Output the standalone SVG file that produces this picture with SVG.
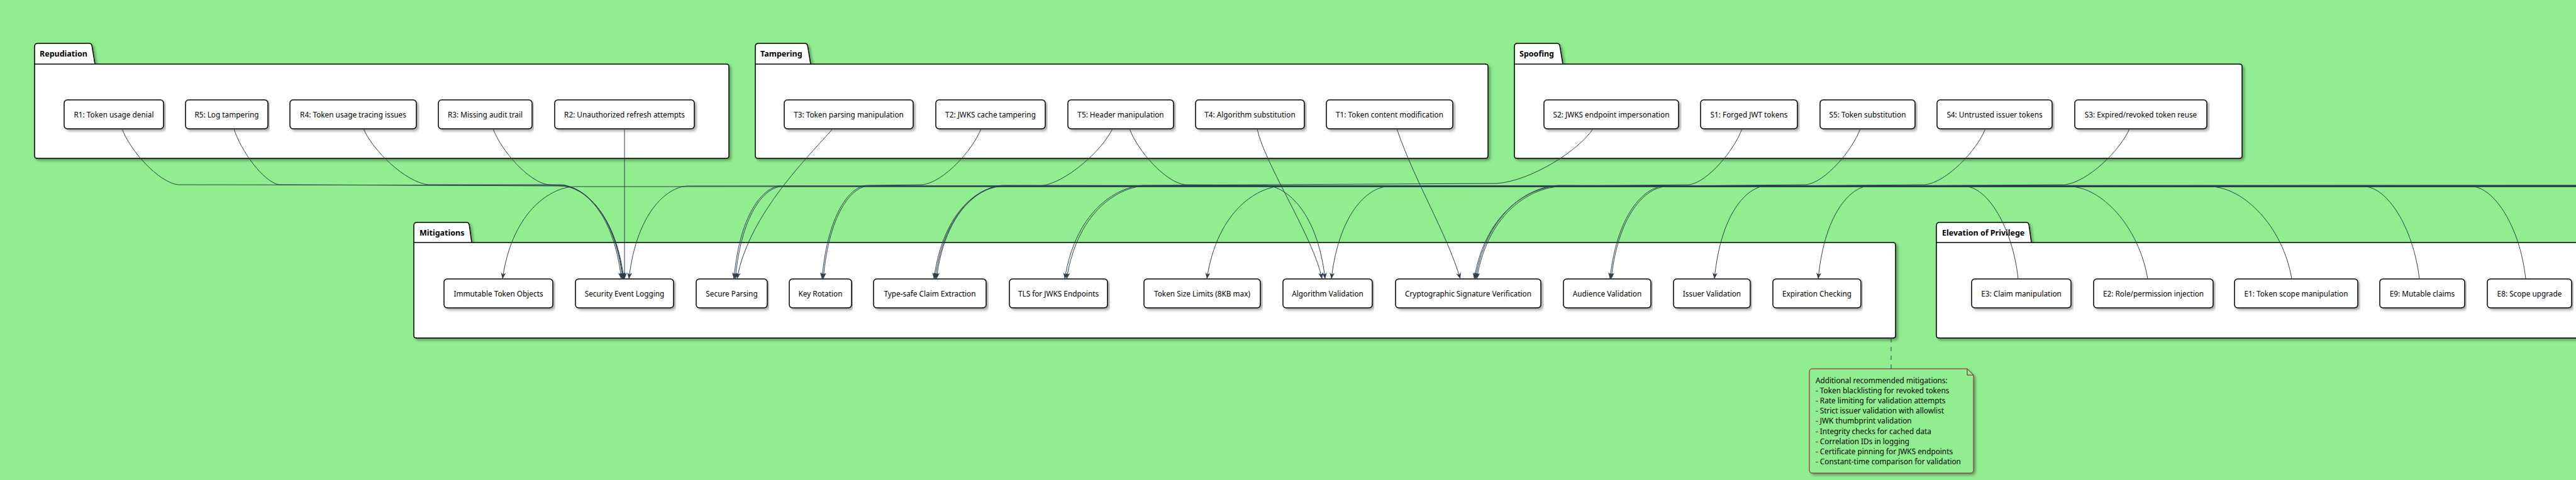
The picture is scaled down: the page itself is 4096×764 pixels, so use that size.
<svg xmlns="http://www.w3.org/2000/svg" width="4096" height="764" viewBox="0 0 4096 764">
<defs>
<style>
.pkg{fill:#fff;stroke:#000;stroke-width:1.5;filter:url(#sh)}
.tabline{stroke:#000;stroke-width:1.5;fill:none}
.ptitle{font-family:"Noto Sans",sans-serif;font-size:12.5px;font-weight:bold;fill:#000}
.box{fill:#fff;stroke:#000;stroke-width:1.5;filter:url(#sh)}
.lbl{font-family:"Noto Sans",sans-serif;font-size:11.8px;fill:#000;text-anchor:middle}
.edge{fill:none;stroke:#2C3E50;stroke-width:1;marker-end:url(#arr)}
.ntext{font-family:"Noto Sans",sans-serif;font-size:11.8px;fill:#000}
</style>
<filter id="sh" x="-2%" y="-10%" width="104%" height="130%">
<feDropShadow dx="3" dy="3" stdDeviation="2" flood-color="#000" flood-opacity="0.35"/>
</filter>
<marker id="arr" viewBox="0 0 10 8" refX="10" refY="4" markerWidth="10" markerHeight="8" markerUnits="userSpaceOnUse" orient="auto">
<path d="M0,0 L10,4 L0,8 L3,4 Z" fill="#2C3E50"/>
</marker>
</defs>
<rect x="0" y="0" width="4096" height="764" fill="#90EE90"/>

<!-- Packages -->
<g id="pkg-repudiation">
<path class="pkg" d="M55,248 L55,74 Q55,69 60,69 L142,69 Q145,69 146,72 L151,102 L1155,102 Q1159,102 1159,106 L1159,248 Q1159,252 1155,252 L59,252 Q55,252 55,248 Z"/>
<line class="tabline" x1="55" y1="102" x2="151" y2="102"/>
<text class="ptitle" x="63" y="90">Repudiation</text>
</g>
<g id="pkg-tampering">
<path class="pkg" d="M1201,248 L1201,74 Q1201,69 1206,69 L1280,69 Q1283,69 1284,72 L1289,102 L2362,102 Q2366,102 2366,106 L2366,248 Q2366,252 2362,252 L1205,252 Q1201,252 1201,248 Z"/>
<line class="tabline" x1="1201" y1="102" x2="1289" y2="102"/>
<text class="ptitle" x="1209" y="90">Tampering</text>
</g>
<g id="pkg-spoofing">
<path class="pkg" d="M2408,248 L2408,74 Q2408,69 2413,69 L2476,69 Q2479,69 2480,72 L2485,102 L3561,102 Q3565,102 3565,106 L3565,248 Q3565,252 3561,252 L2412,252 Q2408,252 2408,248 Z"/>
<line class="tabline" x1="2408" y1="102" x2="2485" y2="102"/>
<text class="ptitle" x="2416" y="90">Spoofing</text>
</g>
<g id="pkg-mitigations">
<path class="pkg" d="M658,534 L658,359 Q658,354 663,354 L742,354 Q745,354 746,357 L750,386 L3010,386 Q3014,386 3014,390 L3014,534 Q3014,538 3010,538 L662,538 Q658,538 658,534 Z"/>
<line class="tabline" x1="658" y1="386" x2="750" y2="386"/>
<text class="ptitle" x="667" y="375">Mitigations</text>
</g>
<g id="pkg-elevation">
<path class="pkg" d="M3079,534 L3079,359 Q3079,354 3084,354 L3222,354 Q3225,354 3226,357 L3230,386 L4400,386 L4400,538 L3083,538 Q3079,538 3079,534 Z"/>
<line class="tabline" x1="3079" y1="386" x2="3230" y2="386"/>
<text class="ptitle" x="3088" y="375">Elevation of Privilege</text>
</g>

<!-- Threat nodes -->
<g id="R1"><rect class="box" x="102" y="159" width="158" height="46" rx="5"/><text class="lbl" x="181" y="187">R1: Token usage denial</text></g>
<g id="R5"><rect class="box" x="295" y="159" width="131" height="46" rx="5"/><text class="lbl" x="360.5" y="187">R5: Log tampering</text></g>
<g id="R4"><rect class="box" x="461" y="159" width="201" height="46" rx="5"/><text class="lbl" x="561.5" y="187">R4: Token usage tracing issues</text></g>
<g id="R3"><rect class="box" x="697" y="159" width="149" height="46" rx="5"/><text class="lbl" x="771.5" y="187">R3: Missing audit trail</text></g>
<g id="R2"><rect class="box" x="882" y="159" width="222" height="46" rx="5"/><text class="lbl" x="993" y="187">R2: Unauthorized refresh attempts</text></g>

<g id="T3"><rect class="box" x="1247" y="159" width="205" height="46" rx="5"/><text class="lbl" x="1349.5" y="187">T3: Token parsing manipulation</text></g>
<g id="T2"><rect class="box" x="1488" y="159" width="174" height="46" rx="5"/><text class="lbl" x="1575" y="187">T2: JWKS cache tampering</text></g>
<g id="T5"><rect class="box" x="1698" y="159" width="168" height="46" rx="5"/><text class="lbl" x="1782" y="187">T5: Header manipulation</text></g>
<g id="T4"><rect class="box" x="1901" y="159" width="173" height="46" rx="5"/><text class="lbl" x="1987.5" y="187">T4: Algorithm substitution</text></g>
<g id="T1"><rect class="box" x="2109" y="159" width="201" height="46" rx="5"/><text class="lbl" x="2209.5" y="187">T1: Token content modification</text></g>

<g id="S2"><rect class="box" x="2455" y="159" width="214" height="46" rx="5"/><text class="lbl" x="2562" y="187">S2: JWKS endpoint impersonation</text></g>
<g id="S1"><rect class="box" x="2704" y="159" width="154" height="46" rx="5"/><text class="lbl" x="2781" y="187">S1: Forged JWT tokens</text></g>
<g id="S5"><rect class="box" x="2894" y="159" width="151" height="46" rx="5"/><text class="lbl" x="2969.5" y="187">S5: Token substitution</text></g>
<g id="S4"><rect class="box" x="3080" y="159" width="183" height="46" rx="5"/><text class="lbl" x="3171.5" y="187">S4: Untrusted issuer tokens</text></g>
<g id="S3"><rect class="box" x="3299" y="159" width="210" height="46" rx="5"/><text class="lbl" x="3404" y="187">S3: Expired/revoked token reuse</text></g>

<!-- Mitigation nodes -->
<g id="M-immutable"><rect class="box" x="706" y="444" width="173" height="46" rx="5"/><text class="lbl" x="792.5" y="472">Immutable Token Objects</text></g>
<g id="M-logging"><rect class="box" x="915" y="444" width="156" height="46" rx="5"/><text class="lbl" x="993" y="472">Security Event Logging</text></g>
<g id="M-parsing"><rect class="box" x="1107" y="444" width="113" height="46" rx="5"/><text class="lbl" x="1163.5" y="472">Secure Parsing</text></g>
<g id="M-keyrot"><rect class="box" x="1255" y="444" width="99" height="46" rx="5"/><text class="lbl" x="1304.5" y="472">Key Rotation</text></g>
<g id="M-typesafe"><rect class="box" x="1389" y="444" width="179" height="46" rx="5"/><text class="lbl" x="1478.5" y="472">Type-safe Claim Extraction</text></g>
<g id="M-tls"><rect class="box" x="1605" y="444" width="156" height="46" rx="5"/><text class="lbl" x="1683" y="472">TLS for JWKS Endpoints</text></g>
<g id="M-size"><rect class="box" x="1819" y="444" width="185" height="46" rx="5"/><text class="lbl" x="1911.5" y="472">Token Size Limits (8KB max)</text></g>
<g id="M-alg"><rect class="box" x="2040" y="444" width="142" height="46" rx="5"/><text class="lbl" x="2111" y="472">Algorithm Validation</text></g>
<g id="M-sig"><rect class="box" x="2219" y="444" width="231" height="46" rx="5"/><text class="lbl" x="2334.5" y="472">Cryptographic Signature Verification</text></g>
<g id="M-aud"><rect class="box" x="2486" y="444" width="139" height="46" rx="5"/><text class="lbl" x="2555.5" y="472">Audience Validation</text></g>
<g id="M-iss"><rect class="box" x="2661" y="444" width="122" height="46" rx="5"/><text class="lbl" x="2722" y="472">Issuer Validation</text></g>
<g id="M-exp"><rect class="box" x="2819" y="444" width="140" height="46" rx="5"/><text class="lbl" x="2889" y="472">Expiration Checking</text></g>

<!-- Elevation nodes -->
<g id="E3"><rect class="box" x="3135" y="444" width="158" height="46" rx="5"/><text class="lbl" x="3214" y="472">E3: Claim manipulation</text></g>
<g id="E2"><rect class="box" x="3329" y="444" width="190" height="46" rx="5"/><text class="lbl" x="3424" y="472">E2: Role/permission injection</text></g>
<g id="E1"><rect class="box" x="3553" y="444" width="196" height="46" rx="5"/><text class="lbl" x="3651" y="472">E1: Token scope manipulation</text></g>
<g id="E9"><rect class="box" x="3784" y="444" width="135" height="46" rx="5"/><text class="lbl" x="3851.5" y="472">E9: Mutable claims</text></g>
<g id="E8"><rect class="box" x="3955" y="444" width="134" height="46" rx="5"/><text class="lbl" x="4022" y="472">E8: Scope upgrade</text></g>

<!-- Note -->
<g id="note">
<path d="M2882,587 L3128,587 L3138,597 L3138,748 Q3138,753 3133,753 L2882,753 Q2877,753 2877,748 L2877,592 Q2877,587 2882,587 Z" fill="#90EE90" stroke="#A80036" stroke-width="1" filter="url(#sh)"/>
<path d="M3128,587 L3128,597 L3138,597" fill="none" stroke="#A80036" stroke-width="1"/>
<text class="ntext" x="2887" y="609.5">Additional recommended mitigations:</text>
<text class="ntext" x="2887" y="625.7">- Token blacklisting for revoked tokens</text>
<text class="ntext" x="2887" y="641.9">- Rate limiting for validation attempts</text>
<text class="ntext" x="2887" y="658.1">- Strict issuer validation with allowlist</text>
<text class="ntext" x="2887" y="674.3">- JWK thumbprint validation</text>
<text class="ntext" x="2887" y="690.5">- Integrity checks for cached data</text>
<text class="ntext" x="2887" y="706.7">- Correlation IDs in logging</text>
<text class="ntext" x="2887" y="722.9">- Certificate pinning for JWKS endpoints</text>
<text class="ntext" x="2887" y="739.1">- Constant-time comparison for validation</text>
</g>

<!-- Connectors -->
<g id="connectors">
<path class="edge" d="M194,205 C207,240 252,290 283,294 L892,295 C921,295 975,330 988,444"/>
<path class="edge" d="M372,205 C383,240 419,290 444,294 L894,296 C923,296 977,331 990,444"/>
<path class="edge" d="M578,205 C593,240 645,290 681,294 L890,294 C920,294 977,329 991,444"/>
<path class="edge" d="M784,205 C797,240 841,290 872,294 L892,296 C922,296 978,331 992,444"/>
<path class="edge" d="M993,205 L993,444"/>
<path class="edge" d="M1324,205 C1290,245 1190,340 1172,444"/>
<path class="edge" d="M1769,205 C1752,240 1694,292 1654,296 L1241,296 C1219,296 1177,331 1167,444"/>
<path class="edge" d="M1796,205 C1809,240 1853,290 1884,294 L2011,295 C2040,295 2094,330 2107,444"/>
<path class="edge" d="M1999,205 C2010,260 2090,380 2102,444"/>
<path class="edge" d="M2221,205 C2250,290 2300,370 2322,444"/>
<path class="edge" d="M1560,205 C1546,240 1500,290 1467,294 L1379,295 C1357,295 1317,330 1307,444"/>
<path class="edge" d="M2533,205 C2510,240 2434,288 2380,292 L1820,295 C1782,295 1711,330 1693,444"/>
<path class="edge" d="M2770,205 C2757,240 2715,290 2686,294 L2480,296 C2439,296 2363,331 2344,444"/>
<path class="edge" d="M2958,205 C2945,240 2902,290 2872,294 L2647,296 C2621,296 2572,331 2560,444"/>
<path class="edge" d="M3157,205 C3143,240 3095,290 3061,294 L2808,296 C2783,296 2737,331 2726,444"/>
<path class="edge" d="M3386,205 C3371,240 3319,290 3283,294 L2972,296 C2948,296 2902,331 2891,444"/>
<path class="edge" d="M3209,444 C3200,360 3159,298 3126,297 L2480,295 C2440,295 2365,330 2346,444"/>
<path class="edge" d="M3415,444 C3401,360 3341,298 3292,297 L1594,296 C1561,296 1500,331 1485,444"/>
<path class="edge" d="M3644,444 C3630,360 3567,298 3515,297 L1596,295 C1563,295 1502,330 1487,444"/>
<path class="edge" d="M3847,444 C3837,360 3795,298 3760,297 L914,297 C880,297 815,332 799,444"/>
<path class="edge" d="M4016,444 C4007,360 3965,298 3931,297 L1592,297 C1561,297 1503,332 1489,444"/>
<path class="edge" d="M4110,295 L1094,296 C1066,296 1013,331 1000,444"/>
<path class="edge" d="M4110,297 L1243,297 C1220,297 1180,332 1169,444"/>
<path class="edge" d="M4110,296 L1381,296 C1359,296 1319,331 1309,444"/>
<path class="edge" d="M4110,296 L1822,296 C1784,296 1714,331 1696,444"/>
<path class="edge" d="M4110,295 L2040,296 C2004,296 1936,331 1919,444"/>
<path class="edge" d="M4110,296 L2207,297 C2180,297 2130,332 2117,444"/>
<path class="edge" d="M4180,444 C4170,360 4125,298 4093,297 L2482,297 C2441,297 2367,332 2348,444"/>
<path class="edge" d="M4110,297 L2649,297 C2623,297 2574,332 2562,444"/>
<path d="M3007,538 L3007,587" fill="none" stroke="#2C3E50" stroke-width="1" stroke-dasharray="7,7"/>
</g>
</svg>
